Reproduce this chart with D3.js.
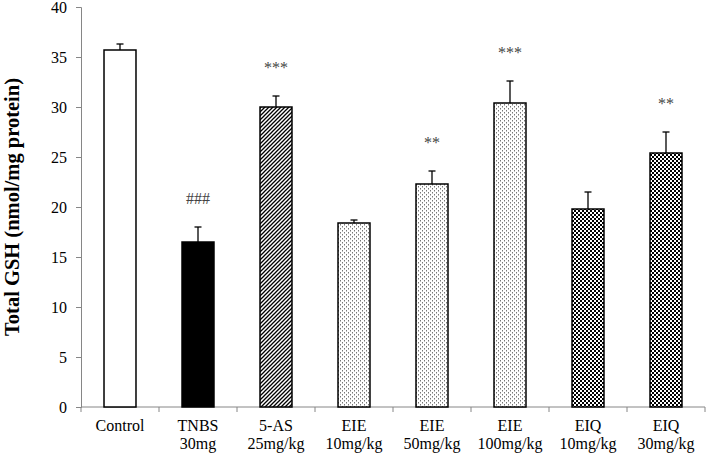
<!DOCTYPE html>
<html><head><meta charset="utf-8">
<script src="https://cdn.jsdelivr.net/npm/d3@7"></script>
<style>body{margin:0;background:#fff}svg{display:block}</style>
</head><body>
<svg id="c" width="708" height="456"></svg>
<script>
const groups = ["Control","TNBS","5-AS","EIE","EIE","EIE","EIQ","EIQ"];
const doses = ["","30mg","25mg/kg","10mg/kg","50mg/kg","100mg/kg","10mg/kg","30mg/kg"];
const values = [35.7,16.5,30.0,18.4,22.3,30.4,19.8,25.4];
const errors = [0.6,1.5,1.1,0.3,1.3,2.2,1.7,2.1];
const marks = ["","###","***","","**","***","","**"];
const fills = ["white","black","hatch","dots","dots","dots","check","check"];
const yTicks = [0,5,10,15,20,25,30,35,40];
const yTitle = "Total GSH (nmol/mg protein)";

const svg = d3.select("#c");
const m = {l:81, r:3, t:7, b:49};
const W = 708, H = 456;
const x = d3.scaleBand().domain(d3.range(values.length)).range([m.l, W-m.r]).padding(0);
const y = d3.scaleLinear().domain([0,40]).range([H-m.b, m.t]);
const font = "'Liberation Serif','Times New Roman',serif";

const defs = svg.append("defs");
const ph = defs.append("pattern").attr("id","hatch").attr("patternUnits","userSpaceOnUse").attr("width",4).attr("height",4);
ph.append("rect").attr("width",4).attr("height",4).attr("fill","white");
ph.append("path").attr("d","M-1,1 l2,-2 M0,4 l4,-4 M3,5 l2,-2").attr("stroke","black").attr("stroke-width",1.3);
const pd = defs.append("pattern").attr("id","dots").attr("patternUnits","userSpaceOnUse").attr("width",4).attr("height",4);
pd.append("rect").attr("width",4).attr("height",4).attr("fill","white");
pd.append("rect").attr("x",0).attr("y",0).attr("width",1).attr("height",1.5).attr("fill","#777");
pd.append("rect").attr("x",2).attr("y",2).attr("width",1).attr("height",1.5).attr("fill","#777");
const pc = defs.append("pattern").attr("id","check").attr("patternUnits","userSpaceOnUse").attr("width",4).attr("height",4);
pc.append("rect").attr("width",4).attr("height",4).attr("fill","white");
pc.append("rect").attr("x",0).attr("y",0).attr("width",2).attr("height",2).attr("fill","black");
pc.append("rect").attr("x",2).attr("y",2).attr("width",2).attr("height",2).attr("fill","black");

// axes
const ya = svg.append("g").attr("transform",`translate(${m.l},0)`)
  .call(d3.axisLeft(y).tickValues(yTicks).tickSize(5).tickPadding(9));
ya.select(".domain").attr("stroke","#868686");
ya.selectAll(".tick line").attr("stroke","#868686");
ya.selectAll("text").attr("font-family",font).attr("font-size",16).attr("fill","black");

const xa = svg.append("g").attr("transform",`translate(0,${y(0)})`);
xa.append("line").attr("x1",m.l).attr("x2",W-m.r).attr("stroke","#868686");
const bounds = d3.range(values.length+1).map(i => m.l + i*x.step());
xa.selectAll(".tk").data(bounds).join("line").attr("class","tk")
  .attr("x1",d=>d).attr("x2",d=>d).attr("y1",0).attr("y2",5).attr("stroke","#868686");

const bw = x.bandwidth()*0.41;
const g = svg.append("g");
values.forEach((v,i) => {
  const cx = x(i) + x.bandwidth()/2;
  const f = fills[i];
  g.append("rect").attr("x",cx-bw/2).attr("y",y(v)).attr("width",bw).attr("height",y(0)-y(v))
    .attr("fill", (f==="white"||f==="black") ? f : `url(#${f})`)
    .attr("stroke","black").attr("stroke-width",1.5);
  const et = y(v+errors[i]);
  g.append("line").attr("x1",cx).attr("x2",cx).attr("y1",y(v)).attr("y2",et).attr("stroke","black").attr("stroke-width",1.3);
  g.append("line").attr("x1",cx-3.5).attr("x2",cx+3.5).attr("y1",et).attr("y2",et).attr("stroke","black").attr("stroke-width",1.3);
  if (marks[i]) {
    g.append("text").attr("x",cx).attr("y",et-23).attr("text-anchor","middle")
      .attr("font-family",font).attr("font-size",16).attr("fill","#444").text(marks[i]);
  }
  g.append("text").attr("x",cx).attr("y",431).attr("text-anchor","middle")
    .attr("font-family",font).attr("font-size",16).attr("fill","black").text(groups[i]);
  if (doses[i]) g.append("text").attr("x",cx).attr("y",448.5).attr("text-anchor","middle")
    .attr("font-family",font).attr("font-size",16).attr("fill","black").text(doses[i]);
});

svg.append("text").attr("transform",`translate(19,${(y(0)+y(40))/2}) rotate(-90)`)
  .attr("text-anchor","middle").attr("font-family",font).attr("font-size",20.5).attr("font-weight","bold")
  .text(yTitle);
</script>
</body></html>
